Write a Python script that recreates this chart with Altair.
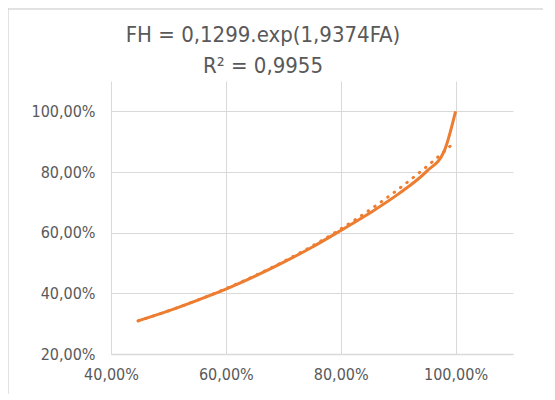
import altair as alt
import pandas as pd

# Data
FA = [0.447, 0.50, 0.55, 0.60, 0.65, 0.70, 0.75, 0.80, 0.85, 0.90, 0.95, 0.98, 1.00]
FH = [0.309, 0.342, 0.377, 0.414, 0.456, 0.502, 0.552, 0.607, 0.664, 0.727, 0.803, 0.868, 1.000]
# Exponential trendline as printed on the chart
trend_a = 0.1299
trend_b = 1.9374
trend_range = [0.447, 1.0]
title_lines = ["FH = 0,1299.exp(1,9374FA)", "R² = 0,9955"]
x_ticks = [0.4, 0.6, 0.8, 1.0]
y_ticks = [0.2, 0.4, 0.6, 0.8, 1.0]

df = pd.DataFrame({"FA": FA, "FH": FH})

ORANGE = "#ED7D31"
GRID = "#D9D9D9"
TXT = "#595959"
FONT = "DejaVu Sans Condensed, Lato"
label_expr = "replace(format(datum.value * 100, '.2f'), '.', ',') + '%'"

x = alt.X("FA:Q", scale=alt.Scale(domain=[0.4, 1.1], nice=False, zero=False),
          axis=alt.Axis(values=x_ticks, labelExpr=label_expr, title=None, grid=True,
                        gridColor=GRID, domainColor=GRID, domainWidth=1.5, ticks=False,
                        labelFlush=False, labelPadding=12, labelColor=TXT, labelFont=FONT,
                        labelFontSize=16))
y = alt.Y("FH:Q", scale=alt.Scale(domain=[0.2, 1.1], nice=False, zero=False),
          axis=alt.Axis(values=y_ticks, labelExpr=label_expr, title=None, grid=True,
                        gridColor=GRID, domain=False, ticks=False, labelFlush=False,
                        labelPadding=16, labelColor=TXT, labelFont=FONT, labelFontSize=16))

solid = alt.Chart(df).mark_line(color=ORANGE, strokeWidth=3, interpolate="monotone").encode(x=x, y=y)
trend = alt.Chart(alt.sequence(trend_range[0], trend_range[1] + 0.0001, 0.005, as_="FA")).transform_calculate(
    FH=f"{trend_a} * exp({trend_b} * datum.FA)"
).mark_line(color=ORANGE, strokeWidth=3, strokeDash=[0.5, 7.5], strokeCap="round").encode(x=x, y=y)

one = pd.DataFrame({"a": [0]})
left_border = alt.Chart(one).mark_rule(color=GRID, strokeWidth=1.5).encode(
    x=alt.value(-103), y=alt.value(-73), y2=alt.value(360))
top_border = alt.Chart(one).mark_rule(color=GRID, strokeWidth=1.5).encode(
    x=alt.value(-103), x2=alt.value(460), y=alt.value(-72))

t1 = alt.Chart(one).mark_text(font=FONT, fontSize=22, color=TXT, align="center", baseline="alphabetic").encode(
    x=alt.value(152), y=alt.value(-39), text=alt.value(title_lines[0]))
t2 = alt.Chart(one).mark_text(font=FONT, fontSize=22, color=TXT, align="center", baseline="alphabetic").encode(
    x=alt.value(152), y=alt.value(-8), text=alt.value(title_lines[1]))

chart = alt.layer(left_border, top_border, solid, trend, t1, t2).properties(
    width=402, height=273,
    autosize=alt.AutoSizeParams(type="none"),
    padding={"left": 103, "top": 73, "right": 30, "bottom": 40},
).configure_view(stroke=None)

chart.save("out.html", embed_options={"renderer": "svg", "actions": False})
